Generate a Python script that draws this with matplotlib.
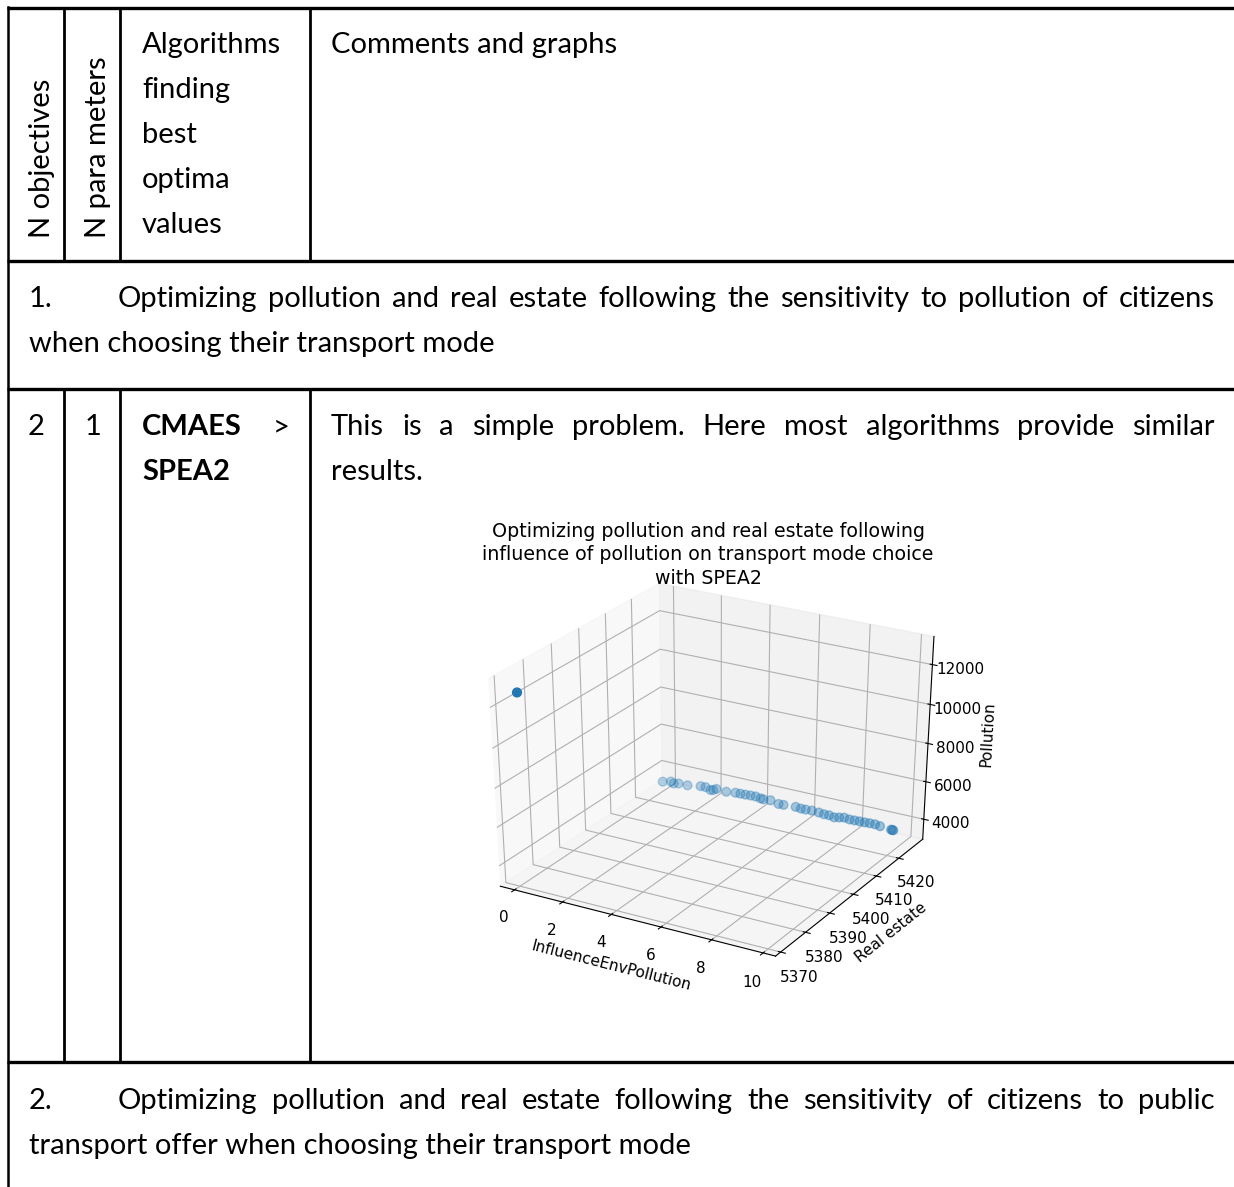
import numpy as np
import matplotlib.pyplot as plt

# Pareto front found by SPEA2 (parameter, real estate, pollution)
influence_env_pollution = [0.17, 0.82, 1.13, 1.24, 1.43, 1.77, 2.27, 2.46, 2.65, 2.76,
                           2.87, 3.25, 3.60, 3.79, 3.98, 4.17, 4.36, 4.55, 4.66, 4.93,
                           5.23, 5.42, 5.88, 6.07, 6.25, 6.49, 6.75, 6.94, 7.13, 7.32,
                           7.51, 7.70, 7.89, 8.08, 8.27, 8.46, 8.64, 8.84, 9.03, 9.45,
                           9.49, 9.53]
real_estate = [5371.0, 5418.0, 5418.4, 5418.5, 5418.7, 5419.1, 5419.7, 5419.9, 5420.1, 5420.2,
               5420.4, 5420.8, 5421.2, 5421.4, 5421.6, 5421.9, 5422.1, 5422.3, 5422.4, 5422.7,
               5423.1, 5423.3, 5423.8, 5424.1, 5424.3, 5424.5, 5424.8, 5425.1, 5425.3, 5425.5,
               5425.7, 5425.9, 5426.2, 5426.4, 5426.6, 5426.8, 5427.1, 5427.3, 5427.5, 5427.9,
               5428.0, 5428.0]
pollution = [12690, 4364, 4424, 4343, 4380, 4343, 4388, 4373, 4256, 4278,
             4352, 4272, 4286, 4272, 4257, 4242, 4228, 4161, 4132, 4132,
             3983, 3971, 3956, 3890, 3871, 3872, 3816, 3750, 3735, 3660,
             3690, 3720, 3650, 3640, 3625, 3610, 3590, 3575, 3510, 3410,
             3400, 3390]
real_estate_ticks = [5370, 5380, 5390, 5400, 5410, 5420]

# table text
header_rot = ["N objectives", "N para meters"]
header_algo = ["Algorithms", "finding", "best", "optima", "values"]
header_comments = "Comments and graphs"
section1 = ["Optimizing pollution and real estate following the sensitivity to pollution of citizens",
            "when choosing their transport mode"]
section2 = ["Optimizing pollution and real estate following the sensitivity of citizens to public",
            "transport offer when choosing their transport mode"]
row_values = ["2", "1"]
row_comment = ["This is a simple problem. Here most algorithms provide similar", "results."]
chart_title = ("Optimizing pollution and real estate following\n"
               "influence of pollution on transport mode choice\nwith SPEA2")

W, H = 1234, 1187
fig = plt.figure(figsize=(W / 100, H / 100), dpi=100)
page = fig.add_axes([0, 0, 1, 1])
page.set_xlim(0, W)
page.set_ylim(H, 0)
page.axis("off")

doc_font = dict(family=["Lato", "DejaVu Sans"], fontsize=21, color="black")
renderer = fig.canvas.get_renderer()


def justify(line, x0, x1, y, **kw):
    words = line.split()
    texts = [page.text(0, y, w, va="baseline", **kw) for w in words]
    widths = [t.get_window_extent(renderer).width for t in texts]
    gap = (x1 - x0 - sum(widths)) / (len(words) - 1)
    x = x0
    for t, w in zip(texts, widths):
        t.set_x(x)
        x += w + gap


# table borders
thick = 2.4
for y in (8, 261, 389, 1062):
    page.plot([7, W], [y, y], color="black", lw=thick, solid_capstyle="butt")
page.plot([8, 8], [7, H], color="black", lw=1.8)
for x in (64, 120, 310):
    page.plot([x, x], [8, 261], color="black", lw=2.0)
    page.plot([x, x], [389, 1062], color="black", lw=2.0)

# header row
page.text(42, 238, header_rot[0], rotation=90, ha="center", va="bottom", **doc_font)
page.text(98, 238, header_rot[1], rotation=90, ha="center", va="bottom", **doc_font)
for i, word in enumerate(header_algo):
    page.text(142, 53 + 45 * i, word, va="baseline", **doc_font)
page.text(331, 53, header_comments, va="baseline", **doc_font)

# section 1
page.text(29, 307, "1.", va="baseline", **doc_font)
justify(section1[0], 118, 1215, 307, **doc_font)
page.text(29, 352, section1[1], va="baseline", **doc_font)

# result row
page.text(36, 435, row_values[0], ha="center", va="baseline", **doc_font)
page.text(93, 435, row_values[1], ha="center", va="baseline", **doc_font)
page.text(142, 435, "CMAES", va="baseline", fontweight="bold", **doc_font)
page.text(290, 435, ">", ha="right", va="baseline", **doc_font)
page.text(142, 480, "SPEA2", va="baseline", fontweight="bold", **doc_font)
justify(row_comment[0], 331, 1215, 435, **doc_font)
page.text(331, 480, row_comment[1], va="baseline", **doc_font)

# section 2
page.text(29, 1109, "2.", va="baseline", **doc_font)
justify(section2[0], 118, 1215, 1109, **doc_font)
page.text(29, 1154, section2[1], va="baseline", **doc_font)

# 3d scatter of the front, stretched to fill a wide panel
aw, ah = 528, 407
cx, cy = 708, 768
ax = fig.add_axes([(cx - aw / 2) / W, (H - cy - ah / 2) / H, aw / W, ah / H], projection="3d")
ax.apply_aspect = lambda position=None: None
ax.set_box_aspect((4, 4, 3.87))
ax.scatter(influence_env_pollution, real_estate, pollution, s=40, color="#1f77b4")
ax.set_xlim(-0.6, 10.48)
ax.set_ylim(5368, 5431)
ax.set_zlim(2920, 13390)
ax.set_yticks(real_estate_ticks)
ax.set_xlabel("InfluenceEnvPollution", fontsize=11)
ax.set_ylabel("Real estate", fontsize=11)
ax.set_zlabel("Pollution", fontsize=11)
ax.tick_params(labelsize=11)
ax.set_title(chart_title, fontsize=13.7, y=1.013, linespacing=1.31)

fig.savefig("out.png", dpi=100)
